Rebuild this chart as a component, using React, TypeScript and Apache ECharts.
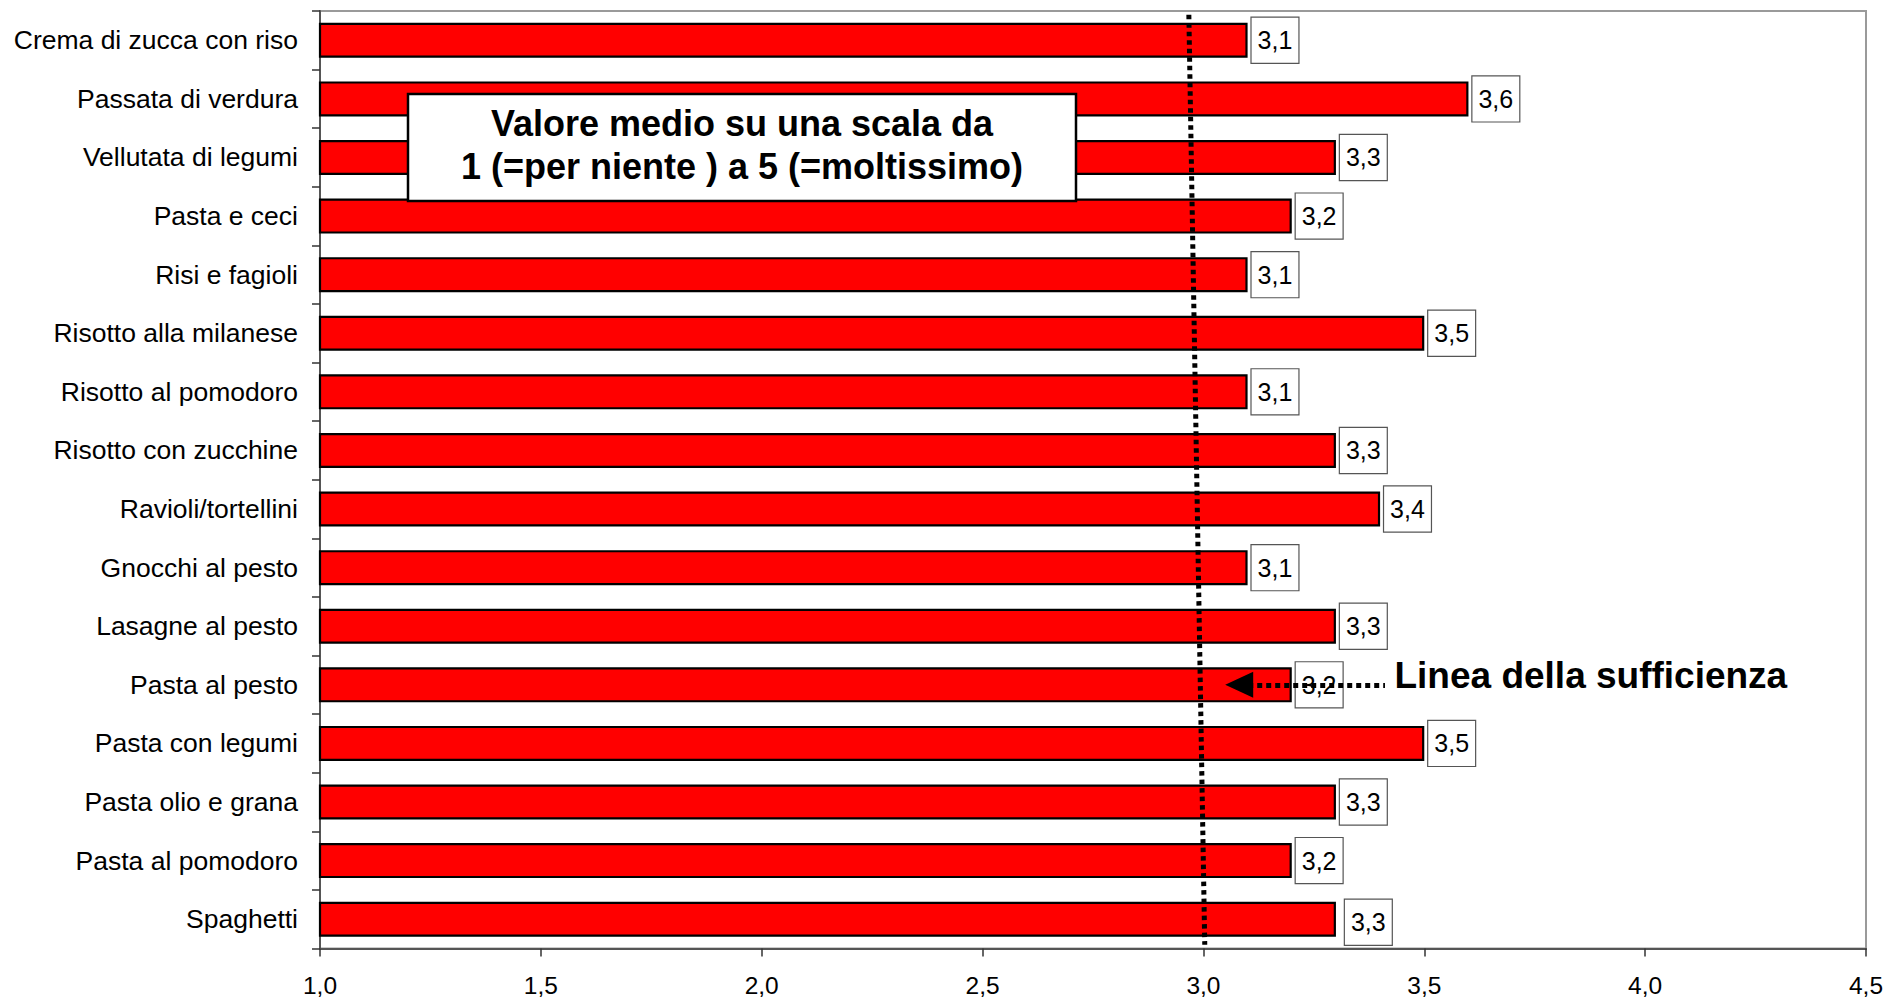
import React, { useEffect, useRef } from "react";
import * as echarts from "echarts";

const categories = [
  "Crema di zucca con riso",
  "Passata di verdura",
  "Vellutata di legumi",
  "Pasta e ceci",
  "Risi e fagioli",
  "Risotto alla milanese",
  "Risotto al pomodoro",
  "Risotto con zucchine",
  "Ravioli/tortellini",
  "Gnocchi al pesto",
  "Lasagne al pesto",
  "Pasta al pesto",
  "Pasta con legumi",
  "Pasta olio e grana",
  "Pasta al pomodoro",
  "Spaghetti",
];
const values = [3.1, 3.6, 3.3, 3.2, 3.1, 3.5, 3.1, 3.3, 3.4, 3.1, 3.3, 3.2, 3.5, 3.3, 3.2, 3.3];

const xTicks = [1.0, 1.5, 2.0, 2.5, 3.0, 3.5, 4.0, 4.5];

// "Linea della sufficienza" (slightly slanted dotted line, as in the source)
const thresholdX = [2.967, 3.003];
const thresholdY = [0.996, 0.004];

// arrow pointing to the line
const arrowCategory = "Pasta al pesto";
const arrowX = [3.081, 3.411];
const arrowText = "Linea della sufficienza";

const titleLines = ["Valore medio su una scala da", "1 (=per niente ) a 5 (=moltissimo)"];

const FONT = '"Liberation Sans", Arial, sans-serif';
const fmt = (v: number) => v.toFixed(1).replace(".", ",");

export default function App() {
  const ref = useRef<HTMLDivElement>(null);

  useEffect(() => {
    if (!ref.current) return;
    const chart = echarts.init(ref.current, null, { renderer: "svg" });

    const barData = values.map((v, i) => {
      if (i === values.length - 1) {
        return { value: v, label: { offset: [5, 3] } };
      }
      return v;
    });

    chart.setOption({
      animation: false,
      backgroundColor: "#fff",
      textStyle: { fontFamily: FONT },
      grid: {
        left: 320,
        right: 24,
        top: 11,
        bottom: 53.5,
        show: true,
        borderColor: "#9a9a9a",
        borderWidth: 2,
        backgroundColor: "transparent",
      },
      xAxis: {
        type: "value",
        min: xTicks[0],
        max: xTicks[xTicks.length - 1],
        interval: xTicks[1] - xTicks[0],
        splitLine: { show: false },
        axisLine: { show: true, onZero: false, lineStyle: { color: "#555", width: 2 } },
        axisTick: { show: true, length: 8, lineStyle: { color: "#333", width: 1.5 } },
        axisLabel: {
          formatter: (v: number) => fmt(v),
          fontSize: 24.5,
          color: "#000",
          fontFamily: FONT,
          margin: 24,
        },
      },
      yAxis: [
        {
          type: "category",
          data: categories,
          inverse: true,
          axisLine: { show: true, lineStyle: { color: "#555", width: 2 } },
          axisTick: { show: true, length: 8, alignWithLabel: false, lineStyle: { color: "#333", width: 1.5 } },
          axisLabel: { fontSize: 26.5, color: "#000", fontFamily: FONT, margin: 22 },
          splitLine: { show: false },
        },
        {
          type: "value",
          min: 0,
          max: 1,
          show: false,
          splitLine: { show: false },
        },
      ],
      series: [
        {
          type: "bar",
          data: barData,
          barWidth: 35,
          itemStyle: { color: "#ff0000", borderColor: "#000", borderWidth: 2.2 },
          label: {
            show: true,
            position: "right",
            distance: 4,
            formatter: (p: any) => fmt(p.value),
            fontSize: 25,
            lineHeight: 27,
            color: "#000",
            fontFamily: FONT,
            backgroundColor: "#fff",
            borderColor: "#555",
            borderWidth: 1.2,
            padding: [9, 6, 9, 6],
          },
          markLine: {
            silent: true,
            animation: false,
            symbol: ["triangle", "none"],
            symbolSize: [26, 28],
            lineStyle: { color: "#000", width: 5, type: [5, 4] },
            itemStyle: { color: "#000" },
            label: { show: false },
            emphasis: { disabled: true },
            data: [
              [
                { coord: [arrowX[0], arrowCategory] },
                { coord: [arrowX[1], arrowCategory] },
              ],
            ],
          },
          markPoint: {
            silent: true,
            animation: false,
            symbol: "circle",
            symbolSize: 1,
            itemStyle: { color: "transparent" },
            label: {
              show: true,
              position: "right",
              distance: 9,
              offset: [0, -9],
              formatter: arrowText,
              fontSize: 37,
              fontWeight: "bold",
              color: "#000",
              fontFamily: FONT,
            },
            emphasis: { disabled: true },
            data: [{ coord: [arrowX[1], arrowCategory] }],
          },
        },
        {
          type: "line",
          xAxisIndex: 0,
          yAxisIndex: 1,
          data: thresholdX.map((x, i) => [x, thresholdY[i]]),
          symbol: "none",
          silent: true,
          z: 5,
          lineStyle: { color: "#000", width: 5, type: [4.5, 4] },
        },
      ],
      graphic: [
        {
          type: "rect",
          z: 100,
          zlevel: 0,
          shape: { x: 408, y: 94, width: 668, height: 107 },
          style: { fill: "#fff", stroke: "#000", lineWidth: 2.5 },
        },
        {
          type: "text",
          z: 101,
          zlevel: 0,
          x: 742,
          y: 145,
          style: {
            text: titleLines.join("\n"),
            fontSize: 36,
            fontWeight: "bold",
            fontFamily: FONT,
            fill: "#000",
            align: "center",
            verticalAlign: "middle",
            lineHeight: 43,
          },
        },
      ],
    });

    return () => chart.dispose();
  }, []);

  return (
    <div
      ref={ref}
      style={{ position: "fixed", left: 0, top: 0, width: 1890, height: 1002, background: "#fff" }}
    />
  );
}
